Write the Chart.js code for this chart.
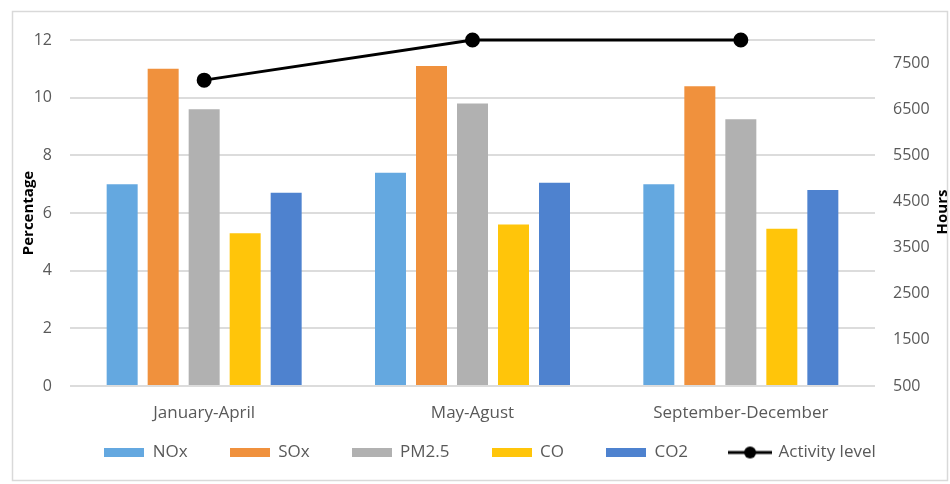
<!DOCTYPE html>
<html>
<head>
<meta charset="utf-8">
<script src="https://cdn.jsdelivr.net/npm/chart.js@4"></script>
<style>
  html, body { margin: 0; padding: 0; background: #fff; }
  #wrap { width: 950px; height: 484px; }
</style>
</head>
<body>
<div id="wrap"><canvas id="chartEmisiones" width="950" height="484"></canvas></div>
<script>
const categories = ["January-April", "May-Agust", "September-December"];
const noxValues = [7.0, 7.4, 7.0];
const soxValues = [11.0, 11.1, 10.4];
const pm25Values = [9.6, 9.8, 9.25];
const coValues = [5.3, 5.6, 5.45];
const co2Values = [6.7, 7.05, 6.8];
const activityHours = [7130, 8000, 8000];
const hoursTicks = [500, 1500, 2500, 3500, 4500, 5500, 6500, 7500];

const colores = ["#64a8e0", "#f0913d", "#b1b1b1", "#ffc50a", "#4e82cf"];

Chart.defaults.font.family = "'Open Sans', sans-serif";
Chart.defaults.color = "#595959";

// iconos de la leyenda (cajas planas y linea con punto)
function iconoCaja(color) {
    const c = document.createElement("canvas");
    c.width = 40; c.height = 9;
    const g = c.getContext("2d");
    g.fillStyle = color;
    g.fillRect(0, 0, 40, 9);
    return c;
}
function iconoLinea() {
    const c = document.createElement("canvas");
    c.width = 44; c.height = 14;
    const g = c.getContext("2d");
    g.strokeStyle = "#000"; g.lineWidth = 3;
    g.beginPath(); g.moveTo(0, 7); g.lineTo(44, 7); g.stroke();
    g.fillStyle = "#000";
    g.beginPath(); g.arc(22, 7, 6, 0, Math.PI * 2); g.fill();
    return c;
}
const iconos = colores.map(iconoCaja).concat([iconoLinea()]);

const bordeYTitulo = {
    id: "bordeYTitulo",
    beforeDraw(chart) {
        const ctx = chart.ctx;
        ctx.save();
        ctx.strokeStyle = "#d9d9d9";
        ctx.lineWidth = 1.5;
        ctx.strokeRect(12.5, 11.5, 935, 469);
        ctx.restore();
    },
    afterDraw(chart) {
        const ctx = chart.ctx;
        ctx.save();
        ctx.translate(943, 212);
        ctx.rotate(-Math.PI / 2);
        ctx.font = "bold 15px 'Open Sans', sans-serif";
        ctx.fillStyle = "#000";
        ctx.textAlign = "center";
        ctx.textBaseline = "middle";
        ctx.fillText("Hours", 0, 0);
        ctx.restore();
    }
};

function barra(label, data, i) {
    return {
        type: "bar",
        label: label,
        data: data,
        backgroundColor: colores[i],
        yAxisID: "y",
        order: 1,
        categoryPercentage: 0.764,
        barPercentage: 0.756
    };
}

const ctx = document.getElementById("chartEmisiones").getContext("2d");
new Chart(ctx, {
    data: {
        labels: categories,
        datasets: [
            barra("NOx", noxValues, 0),
            barra("SOx", soxValues, 1),
            barra("PM2.5", pm25Values, 2),
            barra("CO", coValues, 3),
            barra("CO2", co2Values, 4),
            {
                type: "line",
                label: "Activity level",
                data: activityHours,
                yAxisID: "y1",
                order: 0,
                clip: false,
                borderColor: "#000",
                backgroundColor: "#000",
                borderWidth: 3,
                pointRadius: 6,
                pointBackgroundColor: "#000",
                pointBorderColor: "#000"
            }
        ]
    },
    options: {
        responsive: false,
        animation: false,
        layout: { padding: { top: 40, left: 30, right: 0, bottom: 13 } },
        plugins: {
            tooltip: { enabled: false },
            legend: {
                position: "bottom",
                labels: {
                    usePointStyle: true,
                    pointStyleWidth: 40,
                    boxHeight: 9,
                    padding: 42,
                    color: "#595959",
                    font: { size: 17 },
                    generateLabels(chart) {
                        const items = Chart.defaults.plugins.legend.labels.generateLabels(chart);
                        items.sort((a, b) => a.datasetIndex - b.datasetIndex);
                        items.forEach(it => { it.pointStyle = iconos[it.datasetIndex]; });
                        return items;
                    }
                }
            }
        },
        scales: {
            x: {
                grid: { display: false },
                border: { display: false },
                ticks: { padding: 9, font: { size: 17 }, color: "#595959" },
                afterFit(scale) {
                    scale.height = 16;
                    // las etiquetas quedan fuera de la caja del eje, sin recorte
                    scale._computeLabelArea = () => undefined;
                }
            },
            y: {
                position: "left",
                min: 0,
                max: 12,
                ticks: { stepSize: 2, padding: 18, font: { size: 16 }, color: "#595959" },
                grid: { color: "#dcdcdc", lineWidth: 2, drawTicks: false },
                border: { display: false },
                title: {
                    display: true,
                    text: "Percentage",
                    color: "#000",
                    font: { size: 15, weight: "bold" },
                    padding: { top: -10, bottom: 0 }
                },
                afterFit(scale) { scale.width = 40; }
            },
            y1: {
                position: "right",
                min: 500,
                max: 8000,
                afterBuildTicks(scale) {
                    scale.ticks = hoursTicks.map(v => ({ value: v }));
                },
                ticks: {
                    padding: 18,
                    font: { size: 16 },
                    color: "#595959",
                    callback: value => String(value)
                },
                grid: { drawOnChartArea: false, drawTicks: false },
                border: { display: false },
                afterFit(scale) { scale.width = 75; }
            }
        }
    },
    plugins: [bordeYTitulo]
});
</script>
</body>
</html>
